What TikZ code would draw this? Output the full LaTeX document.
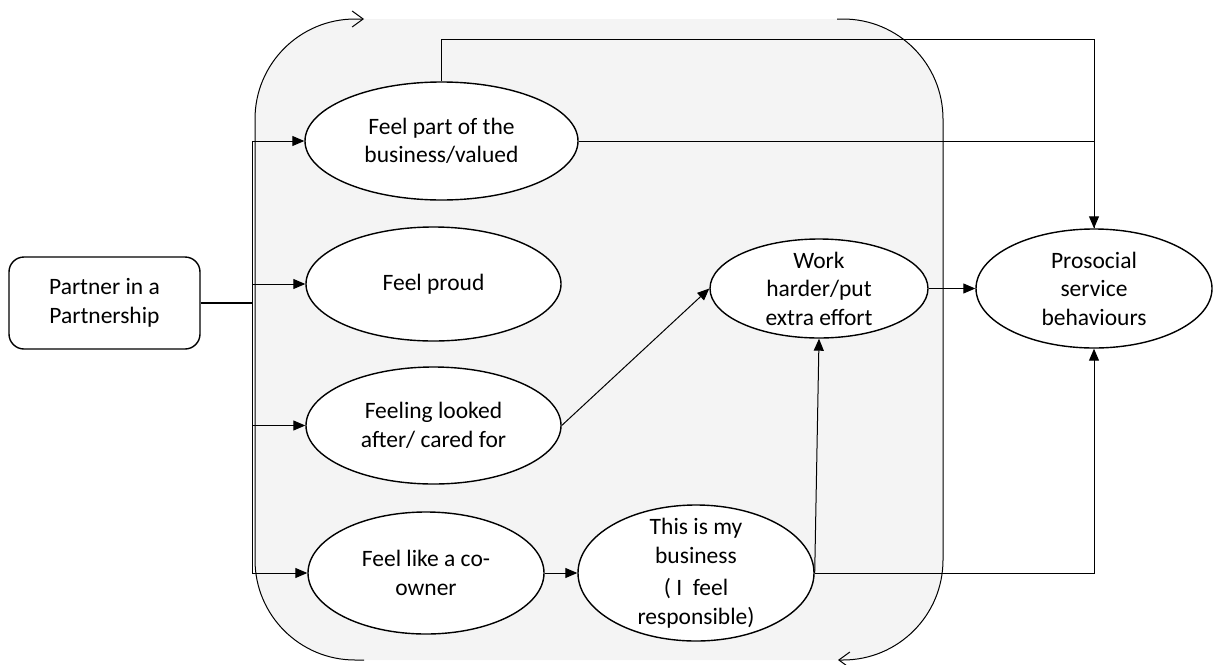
\documentclass[tikz,border=0pt]{standalone}
\usepackage{fontspec}
\setmainfont{Carlito}
\usetikzlibrary{arrows.meta, positioning, shapes.geometric}
\definecolor{panel}{RGB}{244,244,244}

\begin{document}
\begin{tikzpicture}[x=1pt, y=-1pt,
    bubble/.style={ellipse, draw, fill=white, line width=1.4pt, inner sep=0pt, align=center, font=\fontsize{23.5}{28.5}\selectfont},
    flow/.style={-{Triangle[length=12pt, width=10pt]}, line width=1pt},
    link/.style={line width=1pt},
    cyclearc/.style={-{Straight Barb[length=11pt, width=16pt]}, line width=1pt}]
    \useasboundingbox (0,0) rectangle (1214,664);
    % shaded panel behind the middle
    \fill[panel, rounded corners=100pt] (255,19) rectangle (943,660);
    \node[draw, rounded corners=15pt, line width=1.4pt, minimum width=191pt, minimum height=92pt, align=center, font=\fontsize{23.5}{28.5}\selectfont] (partner) at (104.5,303) {Partner in a\\Partnership};
    \node[bubble, minimum width=273pt, minimum height=118pt] (part) at (441.5,141) {Feel part of the\\business/valued};
    \node[bubble, minimum width=255pt, minimum height=114pt] (proud) at (433.5,284) {Feel proud};
    \node[bubble, minimum width=255pt, minimum height=117pt] (care) at (433.5,425.5) {Feeling looked\\after/ cared for};
    \node[bubble, minimum width=236pt, minimum height=122pt] (owner) at (426,573) {Feel like a co-\\owner};
    \node[bubble, minimum width=236pt, minimum height=136pt, inner ysep=-15pt] (biz) at (696,573) {This is my\\business\\[4pt]( I\ \ feel\\responsible)};
    \node[bubble, minimum width=218pt, minimum height=99pt, inner ysep=-9pt] (work) at (819,288.5) {Work\\harder/put\\extra effort};
    \node[bubble, minimum width=236pt, minimum height=119pt, inner ysep=-7pt] (pro) at (1094,288.5) {Prosocial\\service\\behaviours};
    % trunk from the partner box
    \coordinate (trunk) at (252,303);
    \draw[line width=1.4pt] (partner.east) -- (trunk);
    \draw[link] (part.west -| trunk) -- (owner.west -| trunk);
    \foreach \n in {part,proud,care,owner}
        \draw[flow] (\n.west -| trunk) -- (\n.west);
    % links to the outcome
    \draw[flow] (part.north) -- ++(0,-42) -| (pro.north);
    \draw[link] (part.east) -| (pro.north);
    \draw[flow] (care.east) -- (work.west);
    \draw[flow] (owner.east) -- (biz.west);
    \draw[flow] (biz.east) -- (work.south);
    \draw[flow] (biz.east) -| (pro.south);
    \draw[flow] (work.east) -- (pro.west);
    % cycle arcs round the panel
    \draw[cyclearc, rounded corners=100pt] (364,660) -- (255,660) -- (255,19) -- (364,19);
    \draw[cyclearc, rounded corners=100pt] (837,19) -- (943,19) -- (943,660) -- (838,660);
\end{tikzpicture}
\end{document}
